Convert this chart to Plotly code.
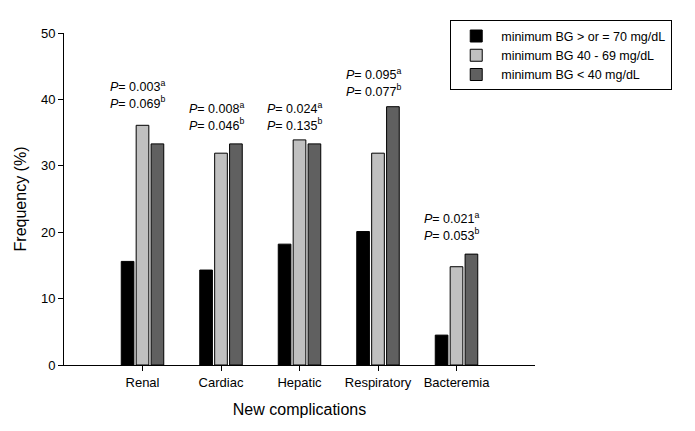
import plotly.graph_objects as go

categories = ["Renal", "Cardiac", "Hepatic", "Respiratory", "Bacteremia"]
series_names = ["minimum BG > or = 70 mg/dL", "minimum BG 40 - 69 mg/dL", "minimum BG < 40 mg/dL"]
bg_ge70 = [15.6, 14.3, 18.2, 20.1, 4.5]
bg_40_69 = [36.1, 31.9, 33.9, 31.9, 14.8]
bg_lt40 = [33.3, 33.3, 33.3, 38.9, 16.7]
p_a = ["0.003", "0.008", "0.024", "0.095", "0.021"]
p_b = ["0.069", "0.046", "0.135", "0.077", "0.053"]
p_label_y = [38.0, 34.7, 34.7, 39.8, 18.1]
colors = ["#000000", "#c0c0c0", "#606060"]

fig = go.Figure()
for name, vals, col in zip(series_names, [bg_ge70, bg_40_69, bg_lt40], colors):
    fig.add_trace(go.Bar(
        x=categories, y=vals, name=name,
        marker=dict(color=col, line=dict(color="black", width=1)),
    ))

for cat, a, b, yv in zip(categories, p_a, p_b, p_label_y):
    fig.add_annotation(
        x=cat, y=yv, xref="x", yref="y", xshift=-5,
        text=f"<i>P</i>= {a}<sup>a</sup><br><i>P</i>= {b}<sup>b</sup>",
        showarrow=False, align="left", yanchor="bottom",
        font=dict(size=12.5, color="black"),
    )

# page body adds an 8px margin, so the figure is offset by 8px
fig.update_layout(
    width=687, height=423,
    margin=dict(l=56, r=160, t=17, b=66),
    paper_bgcolor="white", plot_bgcolor="white",
    font=dict(family="Liberation Sans, Arial, sans-serif", color="black", size=13),
    barmode="group", bargap=0.43, bargroupgap=0.15,
    legend=dict(
        x=0.82, y=1.038, xanchor="left", yanchor="top",
        bordercolor="black", borderwidth=1, bgcolor="white",
        font=dict(size=12.5), tracegroupgap=0, itemwidth=40,
    ),
    showlegend=True,
)
fig.update_xaxes(
    range=[-1, 5], showline=True, linecolor="black", linewidth=1,
    ticks="outside", ticklen=5, tickcolor="black",
    title=dict(text="New complications", font=dict(size=16), standoff=15),
    tickfont=dict(size=13),
)
fig.update_yaxes(
    range=[0, 50], dtick=10, showline=True, linecolor="black", linewidth=1,
    ticks="outside", ticklen=5, tickcolor="black", showgrid=False, zeroline=False,
    title=dict(text="Frequency (%)", font=dict(size=16), standoff=10),
    tickfont=dict(size=13),
)

fig.write_html("out.html")
